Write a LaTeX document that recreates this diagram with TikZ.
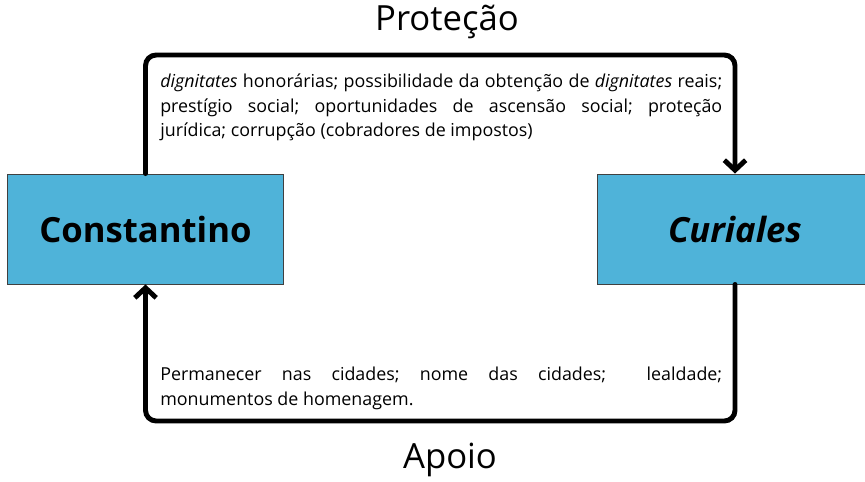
\documentclass[tikz,border=0pt]{standalone}
\usepackage{fontspec}
\setmainfont{Open Sans}
\usetikzlibrary{positioning,arrows.meta}
\definecolor{partyblue}{RGB}{79,179,217}

\begin{document}
\begin{tikzpicture}[
    x=0.75pt, y=-0.75pt,
    party/.style={rectangle, draw=black!75, line width=0.7pt, fill=partyblue, minimum width=207pt, minimum height=82.5pt, font=\fontsize{26}{31}\selectfont\bfseries},
    link/.style={draw, line width=3.7pt, rounded corners=8pt, line cap=round, -{Straight Barb[length=7.5pt,width=16pt]}},
    note/.style={text width=421.5pt, inner sep=0pt, anchor=north west, font=\fontsize{13.4}{18.2}\selectfont,
        execute at begin node={\rightskip=0pt\relax\parfillskip=0pt plus 1fil\relax\spaceskip=0pt\relax\xspaceskip=0pt\relax\frenchspacing\hyphenpenalty=10000\relax}},
    heading/.style={font=\fontsize{26}{31}\selectfont}
]
\useasboundingbox (0,0) rectangle (865,482);

% Define node positions
\node[party] (const) at (145.5,229) {Constantino};
\node[party] (cur) at (735,229) {\itshape Curiales};

% Corner points of the two loops
\coordinate (top) at (440,55);
\coordinate (bot) at (440,421);

% Draw the exchange loops
\draw[link] (const.north) |- (top) -| (cur.north);
\draw[link] (cur.south) |- (bot) -| (const.south);

% Add loop headings
\node[heading] (prot) at (447,22) {Proteção};
\node[heading] (apoio) at (450,460) {Apoio};

% Add texts inside the loops
\node[note] (gives) at (160,74) {\textit{dignitates} honorárias; possibilidade da obtenção de \textit{dignitates} reais;\linebreak prestígio social; oportunidades de ascensão social; proteção\linebreak jurídica; corrupção (cobradores de impostos)};
\node[note] (returns) at (160,367) {Permanecer nas cidades; nome das cidades; \ lealdade;\linebreak monumentos de homenagem.};

\end{tikzpicture}
\end{document}
